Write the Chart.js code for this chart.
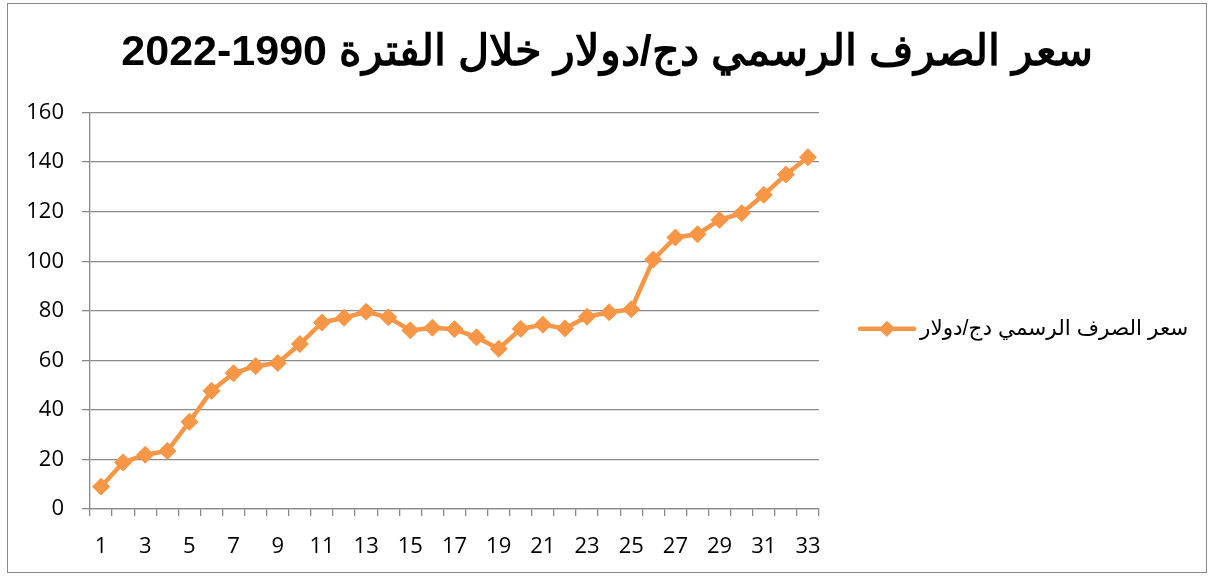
<!DOCTYPE html>
<html>
<head>
<meta charset="utf-8">
<script src="https://cdn.jsdelivr.net/npm/chart.js@4/dist/chart.umd.min.js"></script>
<style>
  html, body { margin: 0; padding: 0; background: #fff; }
  #frame {
    position: absolute; left: 7px; top: 3px;
    width: 1198px; height: 568px;
    border: 1px solid #8a8a8a;
  }
</style>
</head>
<body>
<div id="frame"><canvas id="chart" width="1198" height="568"></canvas></div>
<script>
const titleText = 'سعر الصرف الرسمي دج/دولار خلال الفترة 1990-2022';
const seriesName = 'سعر الصرف الرسمي دج/دولار';

// years 1990..2022 numbered 1..33
const categories = [];
for (let i = 1; i <= 33; i++) categories.push(String(i));

const rates = [
    9.0, 18.8, 21.9, 23.4, 35.2, 47.7, 54.8, 57.7, 58.9, 66.6,
    75.3, 77.2, 79.6, 77.4, 72.1, 73.2, 72.6, 69.3, 64.7, 72.7,
    74.4, 72.9, 77.6, 79.4, 80.6, 100.7, 109.6, 110.9, 116.7, 119.4,
    126.8, 135.0, 142.0
];

const yTicks = { min: 0, max: 160, step: 20 };

const orange = '#F79646';
const gridGrey = '#8a8a8a';
const tickFont = { family: '"Open Sans", sans-serif', size: 22 };

// legend as a layout box on the right so the title stays centred on the whole chart
const sideLegend = {
    id: 'sideLegend',
    start(chart) {
        const box = {
            position: 'right',
            weight: 1000,
            fullSize: false,
            options: {},
            left: 0, top: 0, right: 0, bottom: 0, width: 0, height: 0,
            isHorizontal() { return false; },
            update(maxWidth, maxHeight) {
                this.width = 387;
                this.height = maxHeight;
            },
            draw() {
                const ctx = chart.ctx;
                const area = chart.chartArea;
                const x0 = area.right + 41;
                const y = (area.top + area.bottom) / 2 + 18;
                ctx.save();
                ctx.strokeStyle = orange;
                ctx.lineWidth = 4.5;
                ctx.lineCap = 'round';
                ctx.beginPath();
                ctx.moveTo(x0, y);
                ctx.lineTo(x0 + 54, y);
                ctx.stroke();
                ctx.fillStyle = orange;
                ctx.strokeStyle = orange;
                ctx.lineWidth = 1;
                Chart.helpers.drawPoint(ctx, { pointStyle: 'rectRot', radius: 7.5, borderWidth: 1 }, x0 + 27, y);
                ctx.fillStyle = '#000';
                ctx.font = '21.5px "Liberation Sans", "DejaVu Sans", sans-serif';
                ctx.direction = 'rtl';
                ctx.textAlign = 'left';
                ctx.textBaseline = 'middle';
                ctx.fillText(seriesName, x0 + 60, y);
                ctx.restore();
            }
        };
        Chart.layouts.addBox(chart, box);
    }
};

new Chart(document.getElementById('chart'), {
    type: 'line',
    data: {
        labels: categories,
        datasets: [{
            label: seriesName,
            data: rates,
            borderColor: orange,
            backgroundColor: orange,
            borderWidth: 4.5,
            tension: 0,
            pointStyle: 'rectRot',
            pointRadius: 8.5,
            pointBorderWidth: 1,
            pointBackgroundColor: orange,
            pointBorderColor: orange
        }]
    },
    options: {
        responsive: false,
        animation: false,
        layout: { padding: 0 },
        plugins: {
            legend: { display: false },
            tooltip: { enabled: false },
            title: {
                display: true,
                text: titleText,
                color: '#000',
                font: { family: '"Liberation Sans", Arial, sans-serif', size: 43, weight: 'bold', lineHeight: 1.2 },
                padding: { top: 23, bottom: 34 }
            }
        },
        scales: {
            x: {
                offset: true,
                grid: {
                    offset: true,
                    drawOnChartArea: false,
                    drawTicks: true,
                    tickLength: 7,
                    color: gridGrey,
                    lineWidth: 1.3
                },
                border: { color: gridGrey, width: 1.3 },
                ticks: {
                    autoSkip: false,
                    maxRotation: 0,
                    color: '#000',
                    font: tickFont,
                    padding: 18,
                    callback: (v, i) => (i % 2 === 0 ? categories[i] : '')
                },
                afterFit: s => { s.height = 63; }
            },
            y: {
                min: yTicks.min,
                max: yTicks.max,
                ticks: { stepSize: yTicks.step, color: '#000', font: tickFont, padding: 18 },
                grid: { color: gridGrey, lineWidth: 1.3, tickLength: 8 },
                border: { color: gridGrey, width: 1.3 },
                afterFit: s => { s.width = 82; }
            }
        }
    },
    plugins: [sideLegend]
});
</script>
</body>
</html>
